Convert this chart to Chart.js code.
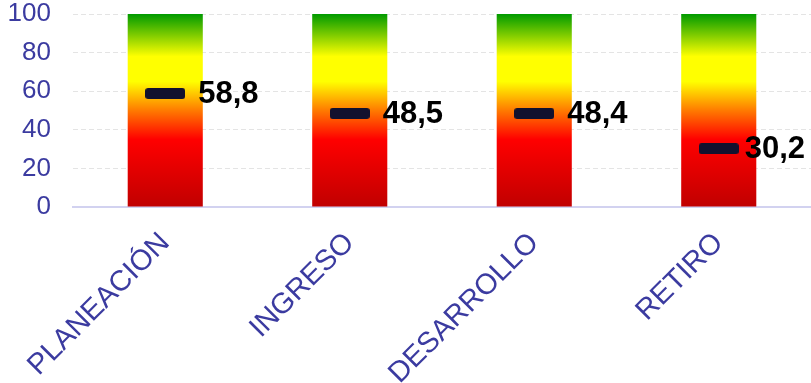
<!DOCTYPE html>
<html>
<head>
<meta charset="utf-8">
<script src="https://cdn.jsdelivr.net/npm/chart.js@4/dist/chart.umd.min.js"></script>
<style>
  html, body { margin: 0; padding: 0; background: #ffffff; }
  #wrap { width: 811px; height: 383px; }
</style>
</head>
<body>
<div id="wrap"><canvas id="chart" width="811" height="383"></canvas></div>
<script>
// Stages of the process and their scores on a 0–100 scale
const categories = ['PLANEACIÓN', 'INGRESO', 'DESARROLLO', 'RETIRO'];
const scores = [58.8, 48.5, 48.4, 30.2];
const scaleMax = [100, 100, 100, 100];
const yTicks = [0, 20, 40, 60, 80, 100];

const axisColor = '#3b3ba0';
const fontFamily = "'Liberation Sans', Arial, sans-serif";

// Dark marker drawn as a small rounded bar
function makeMarker() {
  const w = 40, h = 11, r = 3;
  const c = document.createElement('canvas');
  c.width = w; c.height = h;
  const ctx = c.getContext('2d');
  ctx.fillStyle = '#12112e';
  ctx.beginPath();
  ctx.roundRect(0, 0, w, h, r);
  ctx.fill();
  return c;
}
const marker = makeMarker();

// Red → orange → yellow → green fill from 0 up to 100
function scaleGradient(context) {
  const chart = context.chart;
  const y = chart.scales.y;
  if (!y || !chart.chartArea) return '#ff0000';
  const y0 = y.getPixelForValue(0);
  const y1 = y.getPixelForValue(100);
  const g = chart.ctx.createLinearGradient(0, y0, 0, y1);
  g.addColorStop(0.00, '#c00000');
  g.addColorStop(0.35, '#ff0000');
  g.addColorStop(0.50, '#ff7a00');
  g.addColorStop(0.65, '#ffff00');
  g.addColorStop(0.78, '#ffff00');
  g.addColorStop(1.00, '#009a00');
  return g;
}

// Value labels written to the right of each marker, kept inside the canvas
const valueLabels = {
  id: 'valueLabels',
  afterDatasetsDraw(chart) {
    const meta = chart.getDatasetMeta(1);
    const ctx = chart.ctx;
    ctx.save();
    ctx.font = 'bold 31px ' + fontFamily;
    ctx.fillStyle = '#000000';
    ctx.textAlign = 'left';
    ctx.textBaseline = 'middle';
    meta.data.forEach((pt, i) => {
      const txt = scores[i].toFixed(1).replace('.', ',');
      const w = ctx.measureText(txt).width;
      const x = Math.min(pt.x + 33, chart.width - 6 - w);
      ctx.fillText(txt, x, pt.y + 1);
    });
    ctx.restore();
  }
};

new Chart(document.getElementById('chart'), {
  data: {
    labels: categories,
    datasets: [
      {
        type: 'bar',
        data: scaleMax,
        backgroundColor: scaleGradient,
        borderWidth: 0,
        barPercentage: 0.407,
        categoryPercentage: 1.0,
        order: 2
      },
      {
        type: 'line',
        data: scores,
        showLine: false,
        pointStyle: marker,
        pointRadius: 10,
        order: 1
      }
    ]
  },
  options: {
    responsive: false,
    animation: false,
    events: [],
    layout: { autoPadding: false, padding: { top: 14, right: 0, bottom: 0, left: 0 } },
    plugins: {
      legend: { display: false },
      tooltip: { enabled: false }
    },
    scales: {
      x: {
        grid: { display: false, drawTicks: false },
        border: { display: true, color: '#d2d2f0', width: 2 },
        ticks: {
          color: axisColor,
          font: { family: fontFamily, size: 29 },
          minRotation: 45,
          maxRotation: 45,
          padding: 19
        },
        afterFit(axis) {
          axis.height = 176;
          axis.paddingLeft = 0;
          axis.paddingRight = 0;
        }
      },
      y: {
        min: 0,
        max: 100,
        afterBuildTicks(axis) { axis.ticks = yTicks.map(v => ({ value: v })); },
        grid: {
          color: '#e4e4e4',
          lineWidth: 1,
          drawTicks: false
        },
        border: { display: false, dash: [5, 3] },
        ticks: {
          color: axisColor,
          font: { family: fontFamily, size: 26 },
          padding: 22
        },
        afterFit(axis) {
          axis.width = 73;
          axis.paddingTop = 0;
          axis.paddingBottom = 0;
        }
      }
    }
  },
  plugins: [valueLabels]
});
</script>
</body>
</html>
